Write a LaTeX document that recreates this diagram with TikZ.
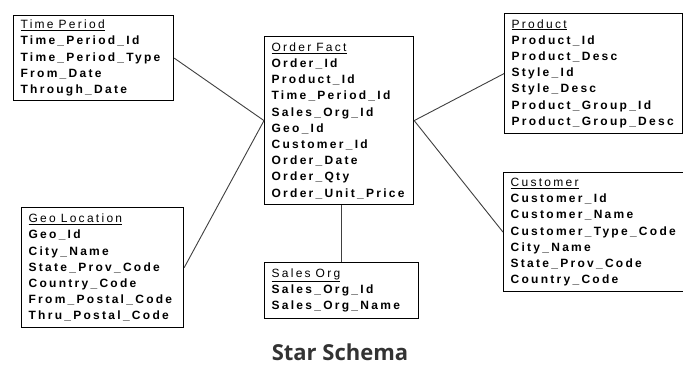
\documentclass[tikz,border=0pt]{standalone}
\usepackage{fontspec}
\setmainfont{Liberation Sans}
\newfontfamily\tablefont{Liberation Sans}[LetterSpace=19]
\newfontfamily\captionfont{Open Sans}
\newcommand{\tabletitle}[1]{{\mdseries\underline{#1}}}
\newcommand{\gap}{\hspace{5pt}}

\begin{document}
\begin{tikzpicture}[x=1pt, y=-1pt]
    \tikzset{
        table/.style={draw, line width=1.2pt, anchor=north west, align=left,
            text width=#1, inner xsep=7pt, inner ysep=3pt,
            font=\tablefont\bfseries\fontsize{12}{16.2}\selectfont},
        link/.style={draw=black!75, line width=0.9pt}
    }
    \useasboundingbox [fill=white] (0,0) rectangle (683,365);

    % dimension tables round the fact table
    \node [table=146, minimum width=160, minimum height=85] (time) at (13,15)
        {\tabletitle{Time\gap Period}\\ Time\_Period\_Id\\ Time\_Period\_Type\\ From\_Date\\ Through\_Date};
    \node [table=135, minimum width=149, minimum height=168] (fact) at (264,36)
        {\tabletitle{Order\gap Fact}\\ Order\_Id\\ Product\_Id\\ Time\_Period\_Id\\ Sales\_Org\_Id\\ Geo\_Id\\ Customer\_Id\\ Order\_Date\\ Order\_Qty\\ Order\_Unit\_Price};
    \node [table=164, minimum width=178, minimum height=120] (product) at (504,13)
        {\tabletitle{Product}\\ Product\_Id\\ Product\_Desc\\ Style\_Id\\ Style\_Desc\\ Product\_Group\_Id\\ Product\_Group\_Desc};
    \node [table=166, minimum width=180, minimum height=119] (customer) at (503,172)
        {\tabletitle{Customer}\\ Customer\_Id\\ Customer\_Name\\ Customer\_Type\_Code\\ City\_Name\\ State\_Prov\_Code\\ Country\_Code};
    \node [table=148, minimum width=162, minimum height=120] (geo) at (21,207)
        {\tabletitle{Geo\gap Location}\\ Geo\_Id\\ City\_Name\\ State\_Prov\_Code\\ Country\_Code\\ From\_Postal\_Code\\ Thru\_Postal\_Code};
    \node [table=140, minimum width=154, minimum height=56] (sales) at (264,262)
        {\tabletitle{Sales\gap Org}\\ Sales\_Org\_Id\\ Sales\_Org\_Name};

    % star links
    \draw [link] (time.east) -- (fact.west);
    \draw [link] (geo.east) -- (fact.west);
    \draw [link] (product.west) -- (fact.east);
    \draw [link] (customer.west) -- (fact.east);
    \draw [link] (sales.north) -- (sales.north |- fact.south);

    \node [font=\captionfont\bfseries\fontsize{22}{24}\selectfont, text=black!80, inner sep=1pt] (caption) at (340,352) {Star Schema};
\end{tikzpicture}
\end{document}
